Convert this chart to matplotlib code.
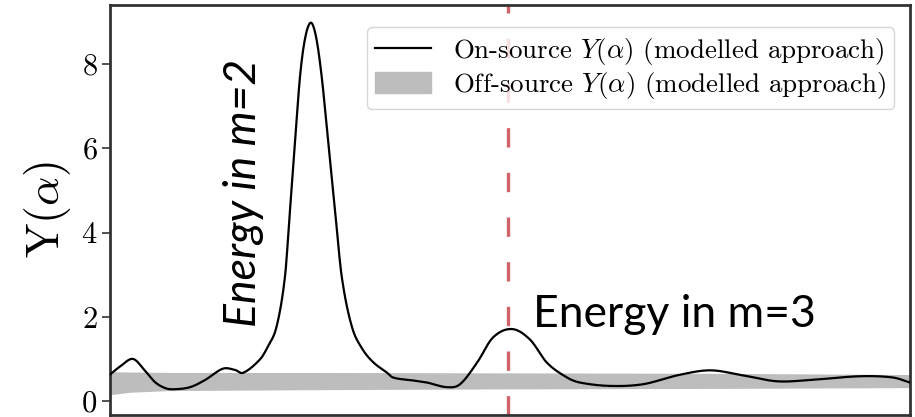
import numpy as np
import matplotlib
matplotlib.use("Agg")
import matplotlib.pyplot as plt
from matplotlib.patches import Patch
from matplotlib.lines import Line2D

plt.rcParams['mathtext.fontset'] = 'cm'
plt.rcParams['font.family'] = 'cmr10'
plt.rcParams['axes.formatter.use_mathtext'] = True

# on-source Y(alpha) (alpha in arbitrary units 0..800)
alpha_on = [0, 10, 23, 35, 45, 55, 63, 80, 95, 113, 125, 133, 150, 158, 166.7,
            175, 180, 185, 190, 195, 200.7, 206, 211.7, 218.3, 225, 231.7, 241.7,
            252, 263.3, 276.7, 283, 303, 317, 337, 350, 367, 383, 402, 420, 437,
            457, 470, 500, 533, 567, 600, 633, 667, 700, 750, 783, 800]
y_on = [0.63, 0.82, 1.00, 0.72, 0.45, 0.31, 0.28, 0.33, 0.50, 0.77, 0.74, 0.67,
        0.99, 1.30, 1.78, 2.96, 4.54, 6.13, 7.70, 8.60, 8.98, 8.65, 7.70, 6.13,
        4.54, 2.96, 1.78, 1.25, 0.92, 0.68, 0.56, 0.49, 0.44, 0.33, 0.40, 0.91,
        1.51, 1.71, 1.46, 0.91, 0.56, 0.44, 0.36, 0.40, 0.61, 0.73, 0.61, 0.47,
        0.50, 0.59, 0.56, 0.44]

# off-source band (lower / upper edge)
alpha_off = [0, 20, 60, 200, 400, 600, 800]
off_low = [0.15, 0.21, 0.25, 0.27, 0.29, 0.30, 0.32]
off_high = [0.70, 0.69, 0.68, 0.68, 0.67, 0.66, 0.63]

alpha_m3 = 398


def hermite(x, y, xs):
    # cubic hermite with catmull-rom style slopes
    x = np.asarray(x, float)
    y = np.asarray(y, float)
    m = np.zeros_like(y)
    m[1:-1] = (y[2:] - y[:-2]) / (x[2:] - x[:-2])
    m[0] = (y[1] - y[0]) / (x[1] - x[0])
    m[-1] = (y[-1] - y[-2]) / (x[-1] - x[-2])
    i = np.clip(np.searchsorted(x, xs) - 1, 0, len(x) - 2)
    h = x[i + 1] - x[i]
    t = (xs - x[i]) / h
    h00 = 2 * t**3 - 3 * t**2 + 1
    h10 = t**3 - 2 * t**2 + t
    h01 = -2 * t**3 + 3 * t**2
    h11 = t**3 - t**2
    return h00 * y[i] + h10 * h * m[i] + h01 * y[i + 1] + h11 * h * m[i + 1]


xs = np.linspace(0, 800, 1601)
ys = hermite(alpha_on, y_on, xs)
lo = np.interp(xs, alpha_off, off_low)
hi = np.interp(xs, alpha_off, off_high)

fig = plt.figure(figsize=(9.15, 4.17), dpi=100)
ax = fig.add_axes([110 / 915, 2 / 417, 800 / 915, 410 / 417])

ax.fill_between(xs, lo, hi, color='#bdbdbd', lw=0, zorder=1)
ax.plot(xs, ys, color='black', lw=1.6, zorder=3)
ax.axvline(alpha_m3, color='#d0646a', lw=2.4, dashes=(5.8, 7.6), zorder=2)

ax.set_xlim(0, 800)
ax.set_ylim(-0.33, 9.4)
ax.set_xticks([])
ax.set_yticks([0, 2, 4, 6, 8])
ax.tick_params(axis='y', labelsize=22, length=6, width=1.2, color='#333333', pad=3)
for s in ax.spines.values():
    s.set_color('#333333')
    s.set_linewidth(2)

ax.set_ylabel(r'$\mathrm{Y}(\alpha)$', fontsize=33, labelpad=6)

handles = [Line2D([], [], color='black', lw=1.6),
           Patch(color='#bdbdbd')]
labels = [r'On-source $Y(\alpha)$ (modelled approach)',
          r'Off-source $Y(\alpha)$ (modelled approach)']
ax.legend(handles, labels, loc='upper right', fontsize=19.4, handlelength=2.1,
          handleheight=0.85, borderpad=0.3, labelspacing=0.12, framealpha=0.8,
          edgecolor='#cccccc', fancybox=True, handletextpad=0.8,
          bbox_to_anchor=(0.997, 0.978))

ax.text(113, 1.75, 'Energy in m=2', rotation=90, fontsize=32, family='Lato',
        style='italic', ha='left', va='bottom', zorder=4)
ax.text(423, 1.77, 'Energy in m=3', fontsize=32, family='Lato',
        ha='left', va='baseline', zorder=4)

fig.savefig('out.png', dpi=100)
